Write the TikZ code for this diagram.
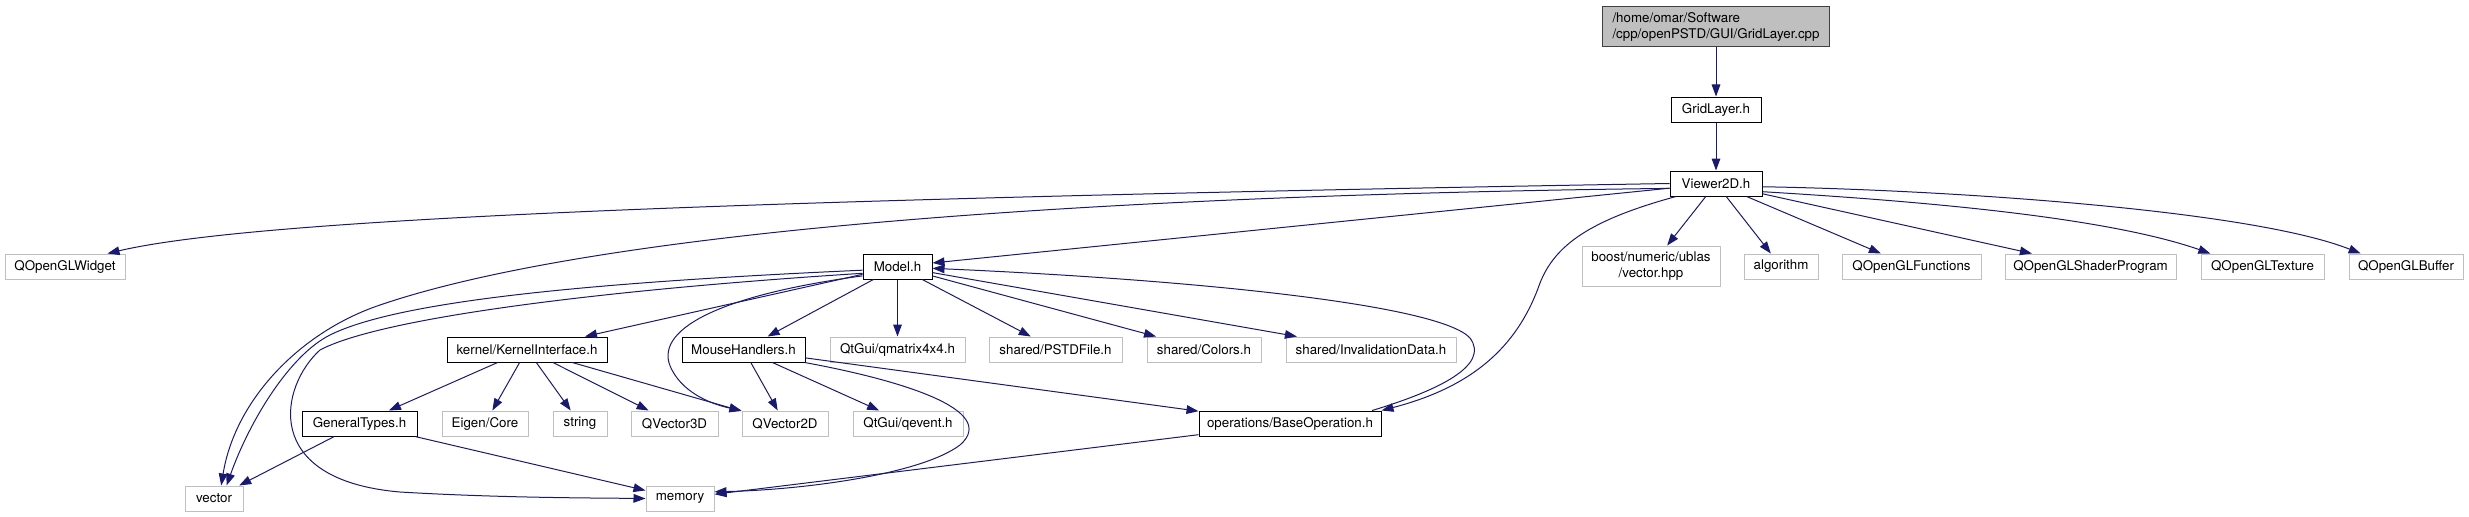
\documentclass[tikz,border=0pt]{standalone}
\usepackage{fontspec}
\setmainfont{TeX Gyre Heros}
\usepackage{xcolor}
\usetikzlibrary{arrows.meta}
\definecolor{edgeblue}{HTML}{191970}
\definecolor{extgray}{HTML}{BFBFBF}
\definecolor{rootgray}{HTML}{BFBFBF}
\tikzstyle{hbox} = [draw=black, fill=white, line width=0.75pt,
    rectangle, inner sep=1pt, minimum height=18.75pt, font=\fontsize{10}{11.5}\selectfont]
\tikzstyle{extbox} = [hbox, draw=extgray]
\tikzstyle{rootbox} = [hbox, draw=black!75, fill=rootgray, align=left, minimum height=30pt]
\tikzstyle{dep} = [draw=edgeblue, line width=0.75pt, -{Triangle[length=9pt,width=6.5pt]}]

\begin{document}
\begin{tikzpicture}[x=0.75pt,y=-0.75pt]
\useasboundingbox (0,0) rectangle (2469,517);
% ranks 1-3
\node[rootbox, minimum width=170.25pt] (root) at (1716,27) {/home/omar/Software\\/cpp/openPSTD/GUI/GridLayer.cpp};
\node[hbox, minimum width=67.5pt] (gridlayer) at (1716,109.5) {GridLayer.h};
\node[hbox, minimum width=69pt] (viewer) at (1716,183.5) {Viewer2D.h};
% rank 4
\node[extbox, minimum width=90pt] (qglwidget) at (65,266.5) {QOpenGLWidget};
\node[hbox, minimum width=51.75pt] (model) at (897.5,266.5) {Model.h};
\node[extbox, minimum width=103.5pt, minimum height=30pt, align=center] (ublas) at (1651,266) {boost/numeric/ublas\\/vector.hpp};
\node[extbox, minimum width=55.5pt] (algorithm) at (1781,266.5) {algorithm};
\node[extbox, minimum width=104.25pt] (qglfunctions) at (1911.5,266.5) {QOpenGLFunctions};
\node[extbox, minimum width=128.25pt] (qglshader) at (2090.5,266.5) {QOpenGLShaderProgram};
\node[extbox, minimum width=92.25pt] (qgltexture) at (2262.5,266.5) {QOpenGLTexture};
\node[extbox, minimum width=85.5pt] (qglbuffer) at (2406,266.5) {QOpenGLBuffer};
% rank 5
\node[hbox, minimum width=120pt] (kernel) at (527,349.5) {kernel/KernelInterface.h};
\node[hbox, minimum width=92.25pt] (mouse) at (743.5,349.5) {MouseHandlers.h};
\node[extbox, minimum width=101.25pt] (qmatrix) at (897.5,349.5) {QtGui/qmatrix4x4.h};
\node[extbox, minimum width=99.75pt] (pstdfile) at (1055.5,349.5) {shared/PSTDFile.h};
\node[extbox, minimum width=85.5pt] (colors) at (1204,349.5) {shared/Colors.h};
\node[extbox, minimum width=127.5pt] (invalidation) at (1371,349.5) {shared/InvalidationData.h};
% rank 6
\node[hbox, minimum width=86.25pt] (generaltypes) at (359.5,423.5) {GeneralTypes.h};
\node[extbox, minimum width=64.5pt] (eigen) at (485,423.5) {Eigen/Core};
\node[extbox, minimum width=40.5pt] (string) at (580,423.5) {string};
\node[extbox, minimum width=65.25pt] (qvecthree) at (674.5,423.5) {QVector3D};
\node[extbox, minimum width=64.5pt] (qvectwo) at (785,423.5) {QVector2D};
\node[extbox, minimum width=82.5pt] (qevent) at (908,423.5) {QtGui/qevent.h};
\node[hbox, minimum width=136.5pt] (baseop) at (1290,423.5) {operations/BaseOperation.h};
% rank 7
\node[extbox, minimum width=43.5pt] (vector) at (214,498.5) {vector};
\node[extbox, minimum width=51pt] (memory) at (680,498.5) {memory};

% straight includes
\foreach \src/\dst in {root/gridlayer, gridlayer/viewer, viewer/ublas, viewer/algorithm,
    viewer/qglfunctions, viewer/qglshader, viewer/model, model/kernel, model/mouse,
    model/qmatrix, model/pstdfile, model/colors, model/invalidation, kernel/generaltypes,
    kernel/eigen, kernel/string, kernel/qvecthree, kernel/qvectwo, mouse/qvectwo,
    mouse/qevent, mouse/baseop, generaltypes/vector, generaltypes/memory, baseop/memory}
  \draw[dep] (\src) -- (\dst);

% curved includes
\draw[dep] (viewer.350) .. controls (1900,200) and (2100,215) .. (qgltexture.166);
\draw[dep] (viewer.356) .. controls (1950,190) and (2250,210) .. (qglbuffer.164);
\draw[dep] (viewer.west) .. controls (700,200) and (250,220) .. (qglwidget.17);
\draw[dep] (viewer.186) .. controls (1100,195) and (600,230) .. (380,305)
    .. controls (300,332) and (235,400) .. (vector.61);
\draw[dep] (viewer.198) .. controls (1590,220) and (1555,245) .. (1540,283)
    .. controls (1520,340) and (1480,385) .. (baseop.north east);
\draw[dep] (baseop.9) .. controls (1440,390) and (1490,365) .. (1470,338)
    .. controls (1440,305) and (1200,280) .. (model.357);
\draw[dep] (model.186) .. controls (600,282) and (400,300) .. (330,335)
    .. controls (290,355) and (250,420) .. (vector.46);
\draw[dep] (model.191) .. controls (600,290) and (380,318) .. (320,350)
    .. controls (280,386) and (260,480) .. (400,492)
    .. controls (500,498) and (600,498) .. (memory.west);
\draw[dep] (model.195) .. controls (720,295) and (650,330) .. (672,370)
    .. controls (685,395) and (715,405) .. (qvectwo.north west);
\draw[dep] (mouse.348) .. controls (900,380) and (1000,410) .. (960,445)
    .. controls (920,475) and (800,490) .. (memory.11);
\end{tikzpicture}
\end{document}
